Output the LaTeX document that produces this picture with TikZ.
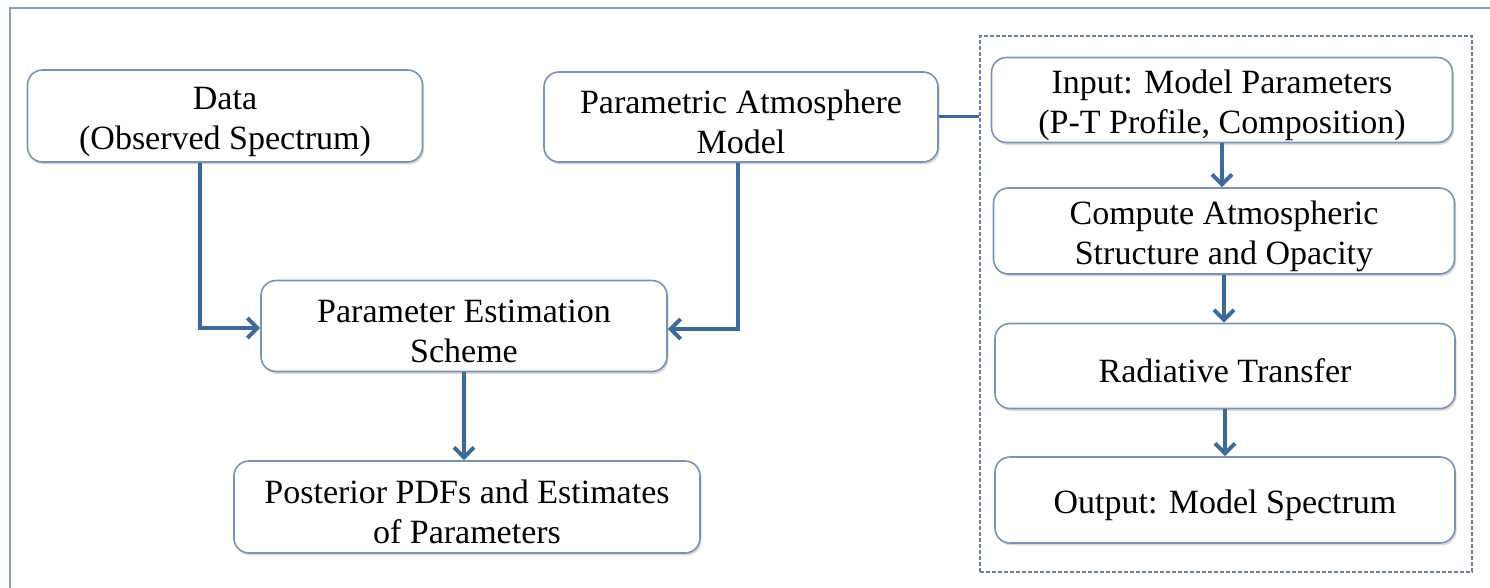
\documentclass[tikz,border=0pt]{standalone}
\usepackage{fontspec}
\setmainfont{Liberation Serif}
\usetikzlibrary{arrows.meta,shadows}
\definecolor{flowblue}{HTML}{3D6A99}
\definecolor{boxline}{HTML}{7A93B2}
\definecolor{frameline}{HTML}{8E9DB6}
\definecolor{groupline}{HTML}{6E8099}
% taller first line, pushes the text a bit down in its box
\newcommand{\toprule}{\rule{0pt}{17pt}}

\begin{document}
\begin{tikzpicture}[x=0.5pt,y=-0.5pt,
    box/.style={draw=boxline, line width=0.8pt, rounded corners=7.5pt, fill=white,
      align=center, inner sep=0pt, font=\fontsize{17}{20}\selectfont,
      drop shadow={shadow xshift=0.8pt, shadow yshift=-1.2pt, opacity=0.3}},
    flow/.style={draw=flowblue, line width=2pt, -{Straight Barb[length=5pt,width=10pt]}},
    link/.style={draw=flowblue, line width=1.5pt},
    groupbox/.style={draw=groupline, line width=0.6pt, dashed, dash pattern=on 2pt off 1pt}]
       \useasboundingbox (0,0) rectangle (1490,588);
       \draw[frameline, line width=0.8pt] (10,588) -- (10,8) -- (1490,8);

       % left part: data, model and estimation
       \node[box, minimum width=197.5pt, minimum height=46pt] (data) at (225,116) {\toprule Data\\(Observed Spectrum)};
       \node[box, minimum width=197pt, minimum height=45pt] (atm) at (741,117) {\toprule Parametric Atmosphere\\Model};
       \node[box, minimum width=203pt, minimum height=45.5pt] (est) at (464,326) {\toprule Parameter Estimation\\Scheme};
       \node[box, minimum width=233pt, minimum height=46pt] (post) at (467,507) {\toprule Posterior PDFs and Estimates\\of Parameters};

       \draw[flow] ([xshift=-12.5pt]data.south) |- ([yshift=-1pt]est.west);
       \draw[flow] ([xshift=-1.5pt]atm.south) |- ([yshift=-1.5pt]est.east);
       \draw[flow] (est.south) -- (est.south |- post.north);

       % right part: forward model steps
       \node[groupbox, minimum width=246pt, minimum height=268pt] (grp) at (1226,304) {};
       \node[box, minimum width=230.5pt, minimum height=42.5pt] (input) at (1222,100) {\toprule Input: Model Parameters\\(P-T Profile, Composition)};
       \node[box, minimum width=230.5pt, minimum height=43pt] (comp) at (1224,231) {\toprule Compute Atmospheric\\Structure and Opacity};
       \node[box, minimum width=230pt, minimum height=42.5pt] (rad) at (1225,366) {\toprule Radiative Transfer};
       \node[box, minimum width=230pt, minimum height=43pt] (out) at (1225,500) {\toprule Output: Model Spectrum};

       \draw[link] (atm.east) -- (atm.east -| grp.west);
       \draw[flow] (input.south) -- (input.south |- comp.north);
       \draw[flow] (comp.south) -- (comp.south |- rad.north);
       \draw[flow] (rad.south) -- (rad.south |- out.north);
      \end{tikzpicture}
\end{document}
